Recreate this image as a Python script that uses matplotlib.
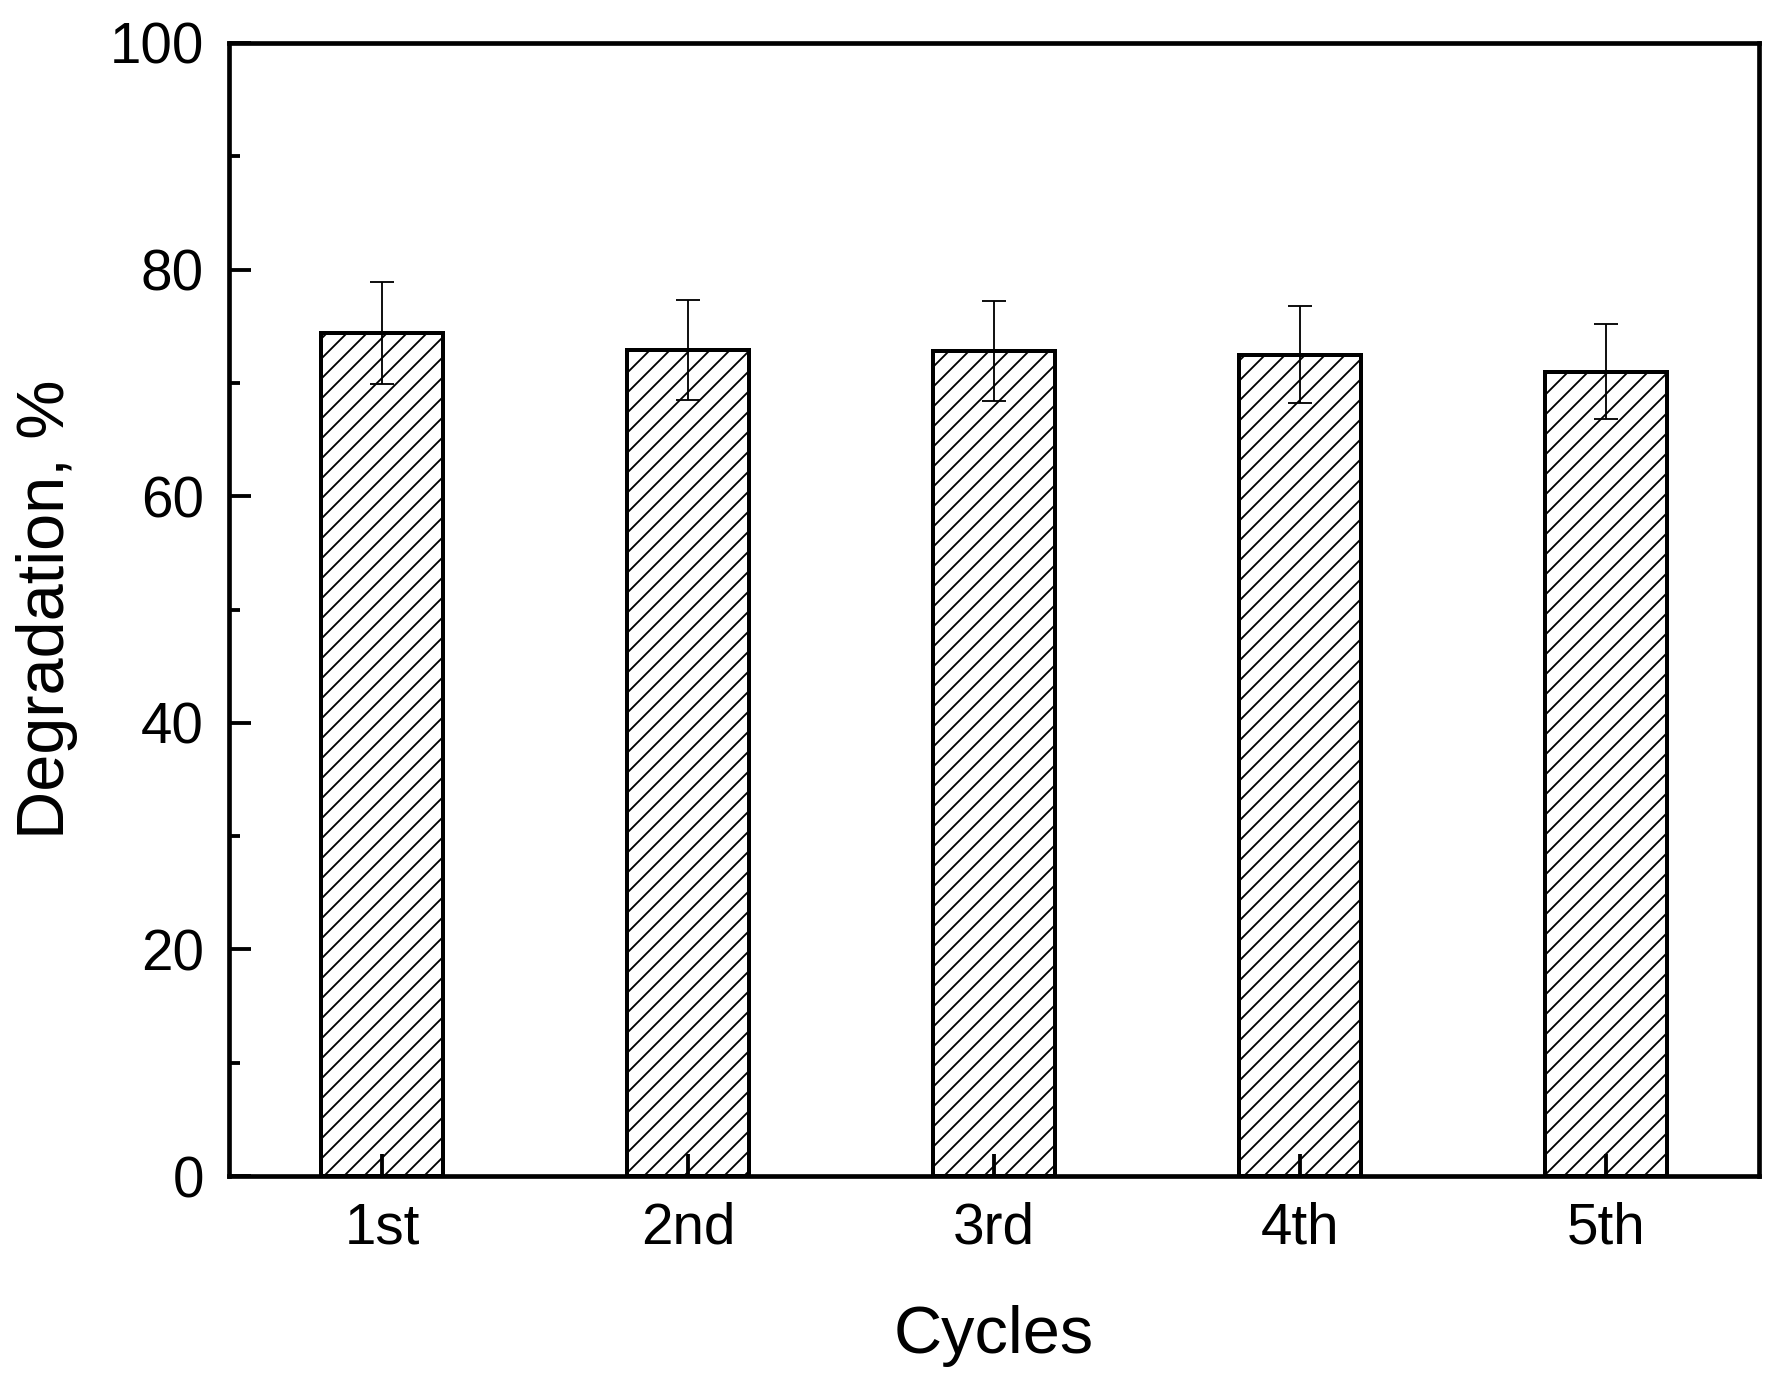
import numpy as np
import matplotlib.pyplot as plt
from matplotlib.ticker import MultipleLocator

cycles = ['1st', '2nd', '3rd', '4th', '5th']
degradation = [74.4, 72.9, 72.8, 72.5, 71.0]
err = [4.5, 4.4, 4.4, 4.3, 4.2]

plt.rcParams['font.family'] = ['Liberation Sans', 'DejaVu Sans']
plt.rcParams['hatch.linewidth'] = 1.1

fig = plt.figure(figsize=(1785 / 120, 1378 / 120), dpi=120)
ax = fig.add_axes([229 / 1785, 1 - 1176 / 1378, (1759 - 229) / 1785, (1176 - 43) / 1378])

x = np.arange(1, len(cycles) + 1)
ax.bar(x, degradation, width=0.4, color='white', edgecolor='black',
       linewidth=2.4, hatch='//', zorder=1)
ax.errorbar(x, degradation, yerr=err, fmt='none', ecolor='black',
            elinewidth=1.1, capsize=7, capthick=1.1, zorder=3)
ax.set_axisbelow(False)

ax.set_xlim(0.5, 5.5)
ax.set_ylim(0, 100)
ax.set_xticks(x)
ax.set_xticklabels(cycles)
ax.yaxis.set_major_locator(MultipleLocator(20))
ax.yaxis.set_minor_locator(MultipleLocator(10))

for s in ax.spines.values():
    s.set_linewidth(2.8)
    s.set_zorder(4)

ax.tick_params(axis='both', which='major', direction='in', length=13, width=2.3,
               labelsize=34, pad=15, top=False, right=False)
ax.tick_params(axis='y', which='minor', direction='in', length=6.6, width=2.3,
               right=False)

ax.set_xlabel('Cycles', fontsize=40, labelpad=30)
ax.set_ylabel('Degradation, %', fontsize=40, labelpad=19)

fig.savefig('out.png', dpi=120)
